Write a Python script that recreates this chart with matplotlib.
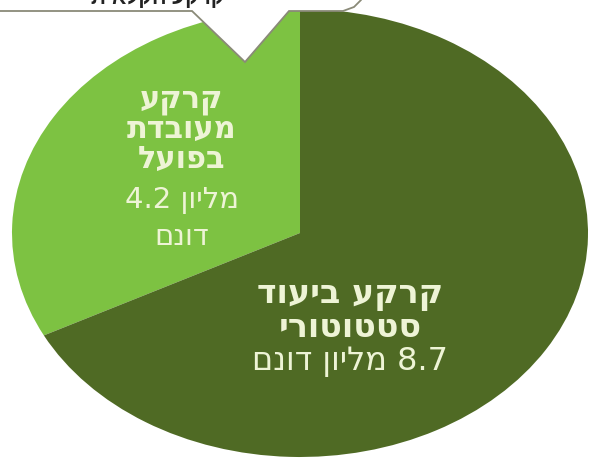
import matplotlib.pyplot as plt
from matplotlib.patches import Polygon

# data (million dunam)
labels = ["קרקע מעובדת בפועל", "קרקע ביעוד סטטוטורי"]
values = [4.2, 8.7]
colors = ["#7DC242", "#4F6A24"]

# text shown on the slices, already in visual (left-to-right) order
light_title = ["עקרק", "תדבועמ", "לעופב"]
light_value = ["4.2 ןוילמ", "םנוד"]
dark_title = ["דועיב עקרק", "ירוטוטטס"]
dark_value = ["םנוד ןוילמ 8.7"]
callout_text = "תיאלקח עקרק"

W, H = 589, 460
CX, CY, RX, RY = 300, 234, 288, 224


def px(x, y):
    # pixel position -> data coords of the unit pie
    return (x - CX) / RX, (CY - y) / RY


fig = plt.figure(figsize=(W / 100, H / 100), dpi=100)
ax = fig.add_axes([0, 0, 1, 1])

ax.pie(values, colors=colors, startangle=90, counterclock=True,
       wedgeprops={"linewidth": 0})
ax.set_aspect("auto")
x0, y0 = px(0, H)
x1, y1 = px(W, 0)
ax.set_xlim(x0, x1)
ax.set_ylim(y0, y1)
ax.axis("off")

# speech bubble at the top
bubble = [px(-10, -10), px(-10, 12), px(192, 12), px(245, 63),
          px(289, 12), px(343, 12), px(354, 8), px(361, 1), px(364, -10)]
ax.add_patch(Polygon(bubble, closed=True, facecolor="white",
                     edgecolor="#8a8a78", linewidth=1.3, zorder=3))
tx, ty = px(158, 4)
ax.text(tx, ty, callout_text, ha="center", va="baseline", fontsize=15,
        family="Liberation Sans", fontweight="bold", color="#222222", zorder=4)

txt_color = "#EEF4D6"
fam = ["DejaVu Sans"]

for line, yy in zip(light_title, [107, 138, 168]):
    x, y = px(182, yy)
    ax.text(x, y, line, ha="center", va="baseline", fontsize=22,
            fontweight="bold", family=fam, color=txt_color)
for line, yy in zip(light_value, [208, 245]):
    x, y = px(182, yy)
    ax.text(x, y, line, ha="center", va="baseline", fontsize=21,
            family=fam, color=txt_color)

for line, yy in zip(dark_title, [303, 337]):
    x, y = px(350, yy)
    ax.text(x, y, line, ha="center", va="baseline", fontsize=24,
            fontweight="heavy", family=fam, color=txt_color)
for line, yy in zip(dark_value, [370]):
    x, y = px(350, yy)
    ax.text(x, y, line, ha="center", va="baseline", fontsize=23,
            family=fam, color=txt_color)

fig.savefig("out.png", dpi=100)
